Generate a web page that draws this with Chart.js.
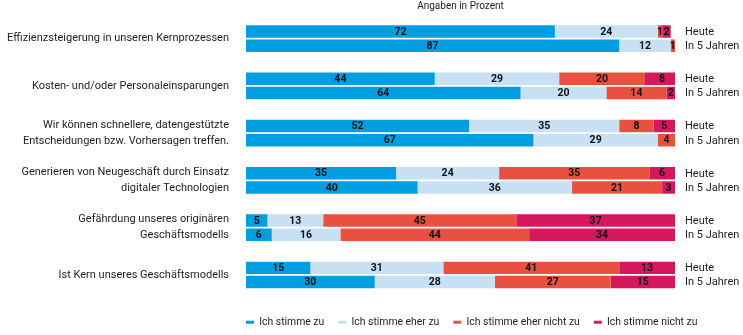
<!DOCTYPE html>
<html>
<head>
<meta charset="utf-8">
<script src="https://cdn.jsdelivr.net/npm/chart.js@4"></script>
<style>
  html, body { margin: 0; padding: 0; background: #fff; }
  #wrap { width: 743px; height: 335px; }
</style>
</head>
<body>
<div id="wrap"><canvas id="chart"></canvas></div>
<script>
var categories = [
  "Effizienzsteigerung in unseren Kernprozessen",
  "Kosten- und/oder Personaleinsparungen",
  ["Wir können schnellere, datengestützte", "Entscheidungen bzw. Vorhersagen treffen."],
  ["Generieren von Neugeschäft durch Einsatz", "digitaler Technologien"],
  ["Gefährdung unseres originären", "Geschäftsmodells"],
  "Ist Kern unseres Geschäftsmodells"
];
var seriesNames = ["Ich stimme zu", "Ich stimme eher zu", "Ich stimme eher nicht zu", "Ich stimme nicht zu"];
var timeLabels = ["Heute", "In 5 Jahren"];

var heuteZu        = [72, 44, 52, 35, 5, 15];
var heuteEherZu    = [24, 29, 35, 24, 13, 31];
var heuteEherNicht = [1, 20, 8, 35, 45, 41];
var heuteNicht     = [2, 8, 5, 6, 37, 13];

var jahreZu        = [87, 64, 67, 40, 6, 30];
var jahreEherZu    = [12, 20, 29, 36, 16, 28];
var jahreEherNicht = [1, 14, 4, 21, 44, 27];
var jahreNicht     = [0, 2, 0, 3, 34, 15];

var colors = ["#009ee0", "#c8e0f4", "#e8513f", "#d5175b"];
var FONT = "Roboto";
var TEXT = "#1e1e1e";

var heute = [heuteZu, heuteEherZu, heuteEherNicht, heuteNicht];
var jahre = [jahreZu, jahreEherZu, jahreEherNicht, jahreNicht];

var datasets = [];
heute.forEach(function (d, i) {
  datasets.push({ label: seriesNames[i], data: d, stack: "heute", backgroundColor: colors[i], borderWidth: 0 });
});
jahre.forEach(function (d, i) {
  datasets.push({ label: seriesNames[i] + " ", data: d, stack: "jahre", backgroundColor: colors[i], borderWidth: 0 });
});

// values inside the segments + "Heute"/"In 5 Jahren" at the bar ends
var barText = {
  id: "barText",
  afterDatasetsDraw: function (chart) {
    var ctx = chart.ctx;
    ctx.save();
    ctx.textBaseline = "middle";
    ctx.textAlign = "center";
    ctx.fillStyle = "#111";
    ctx.font = "bold 10.5px " + FONT;
    chart.data.datasets.forEach(function (ds, di) {
      chart.getDatasetMeta(di).data.forEach(function (el, i) {
        var v = ds.data[i];
        if (!v) return;
        ctx.fillText(v, (el.x + el.base) / 2, el.y + 0.5);
      });
    });
    ctx.textAlign = "left";
    ctx.font = "11px " + FONT;
    ctx.fillStyle = TEXT;
    [3, 7].forEach(function (di, k) {
      chart.getDatasetMeta(di).data.forEach(function (el) {
        ctx.fillText(timeLabels[k], chart.chartArea.right + 10, el.y + 0.5);
      });
    });
    ctx.textAlign = "center";
    ctx.font = "10px " + FONT;
    ctx.fillText("Angaben in Prozent", (chart.chartArea.left + chart.chartArea.right) / 2, 6.5);
    ctx.restore();
  }
};

var legendPlace = {
  id: "legendPlace",
  afterLayout: function (chart) {
    var lg = chart.legend;
    lg.left = chart.chartArea.left - 14;
    lg.right = 743;
    lg.top = 303;
    lg.bottom = 335;
  }
};

new Chart(document.getElementById("chart"), {
  type: "bar",
  data: { labels: categories, datasets: datasets },
  options: {
    indexAxis: "y",
    responsive: true,
    maintainAspectRatio: false,
    animation: false,
    categoryPercentage: 0.6,
    barPercentage: 0.88,
    layout: { padding: { top: 15, right: 68, bottom: 2, left: 0 } },
    scales: {
      x: { stacked: true, min: 0, max: 100, display: false },
      y: {
        stacked: true,
        grid: { display: false, drawTicks: false },
        border: { display: false },
        ticks: { padding: 17, color: TEXT, font: { family: FONT, size: 11, lineHeight: 1.45 } },
        afterFit: function (scale) {
          scale.width = 246;
          scale.paddingTop = 0;
          scale.paddingBottom = 0;
        }
      }
    },
    plugins: {
      legend: {
        position: "bottom",
        align: "start",
        labels: {
          boxWidth: 8,
          boxHeight: 3,
          padding: 14,
          color: TEXT,
          font: { family: FONT, size: 10.4 },
          filter: function (item) { return item.datasetIndex < 4; }
        }
      },
      tooltip: { enabled: false }
    }
  },
  plugins: [barText, legendPlace]
});
</script>
</body>
</html>
